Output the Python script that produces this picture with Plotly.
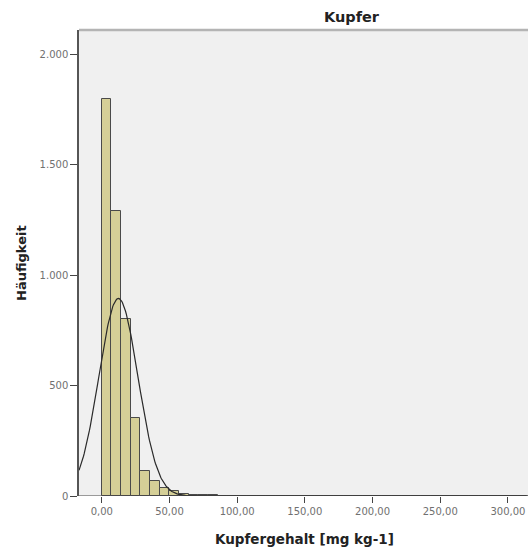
import numpy as np
import plotly.graph_objects as go

# ---- data ----
bin_width = 50 / 7
bin_start = 0.0
counts = [1796, 1291, 803, 355, 115, 66, 34, 22, 11, 6, 4, 3, 2, 2, 1, 1,
          0, 1, 0, 1, 0, 1, 1, 0, 0, 1, 0, 0, 0, 1, 0, 0, 0, 0, 0, 0,
          0, 0, 0, 0, 0, 0, 1, 0]
fit_mean = 12.3
fit_sd = 14.4
fit_n = 4520

x_tickvals = [0, 50, 100, 150, 200, 250, 300]
x_ticktext = ["0,00", "50,00", "100,00", "150,00", "200,00", "250,00", "300,00"]
y_tickvals = [0, 500, 1000, 1500, 2000]
y_ticktext = ["0", "500", "1.000", "1.500", "2.000"]

title_text = "Kupfer"
x_title = "Kupfergehalt [mg kg-1]"
y_title = "Häufigkeit"

# ---- derived ----
centers = [bin_start + bin_width * (i + 0.5) for i in range(len(counts))]
x_range = [-16.8, 314.8]
xs = np.linspace(x_range[0], x_range[1], 600)
ys = fit_n * bin_width / (fit_sd * np.sqrt(2 * np.pi)) * np.exp(-0.5 * ((xs - fit_mean) / fit_sd) ** 2)

fig = go.Figure()
fig.add_trace(go.Bar(
    x=centers, y=counts, width=bin_width,
    marker=dict(color="#d5cf97", line=dict(color="#4a4a4a", width=1)),
    hoverinfo="skip",
))
fig.add_trace(go.Scatter(
    x=xs, y=ys, mode="lines",
    line=dict(color="#2a2a2a", width=1.2),
    hoverinfo="skip",
))

FONT = "DejaVu Sans, Verdana, sans-serif"
tick_font = dict(family=FONT, size=10, color="#707070")

fig.update_layout(
    width=528, height=551,
    margin=dict(l=79, r=0, t=30, b=55, pad=0),
    paper_bgcolor="white",
    plot_bgcolor="#f0f0f0",
    showlegend=False,
    bargap=0,
    xaxis=dict(
        range=x_range, tickvals=x_tickvals, ticktext=x_ticktext,
        ticks="outside", ticklen=6, tickcolor="#444", tickwidth=1,
        showgrid=False, zeroline=False, showline=False,
        tickfont=tick_font,
    ),
    yaxis=dict(
        range=[0, 2110], tickvals=y_tickvals, ticktext=y_ticktext,
        ticks="outside", ticklen=7, tickcolor="#444", tickwidth=1,
        showgrid=False, zeroline=False, showline=True, linecolor="#555", linewidth=1.5,
        tickfont=tick_font,
    ),
    annotations=[
        dict(text="<b>" + title_text + "</b>", xref="paper", yref="paper", x=0.608, y=1.0, yshift=13,
             showarrow=False, xanchor="center", yanchor="middle",
             font=dict(family=FONT, size=14.5, color="#222")),
        dict(text="<b>" + x_title + "</b>", xref="paper", yref="paper", x=0.503, y=0, yshift=-43,
             showarrow=False, xanchor="center", yanchor="middle",
             font=dict(family=FONT, size=13.5, color="#222")),
        dict(text="<b>" + y_title + "</b>", xref="paper", yref="paper", x=0, xshift=-58, y=0.5,
             showarrow=False, xanchor="center", yanchor="middle", textangle=-90,
             font=dict(family=FONT, size=13, color="#222")),
    ],
    shapes=[
        dict(type="line", xref="paper", yref="paper", x0=0, x1=1, y0=1, y1=1,
             line=dict(color="#b4b4b4", width=2.5)),
        dict(type="line", xref="paper", yref="y", x0=0, x1=1, y0=0, y1=0,
             line=dict(color="#444", width=1.2)),
    ],
)

fig.write_html(
    "out.html",
    config={"displayModeBar": False},
    post_script="document.body.style.margin='0';document.body.style.overflow='hidden';",
)
